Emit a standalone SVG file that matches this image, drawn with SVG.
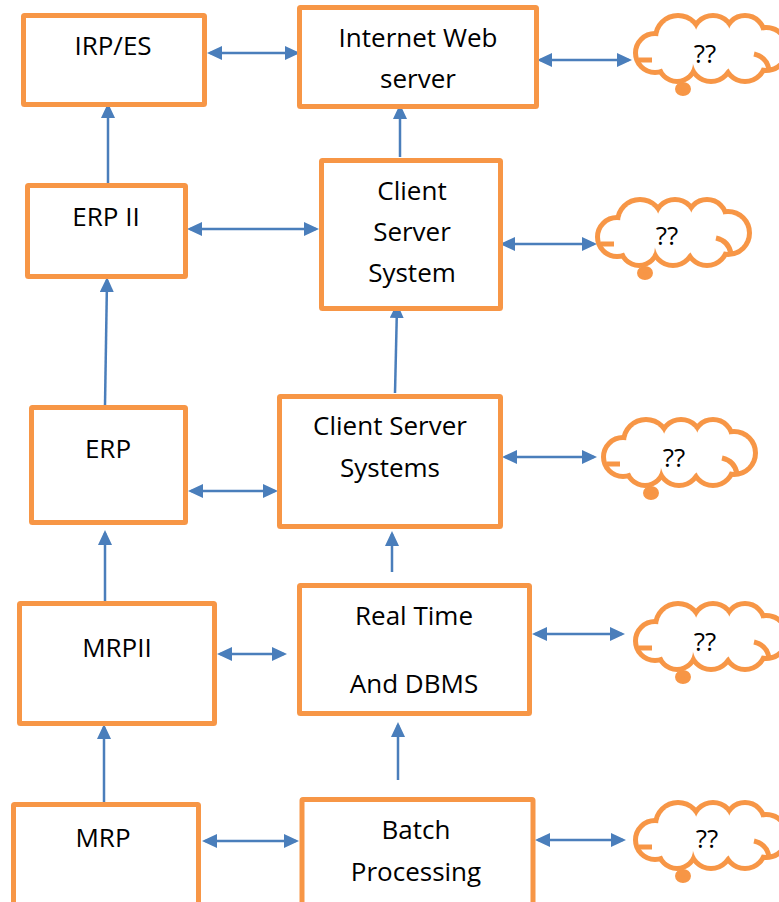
<svg xmlns="http://www.w3.org/2000/svg" xmlns:xlink="http://www.w3.org/1999/xlink" width="779" height="902" viewBox="0 0 779 902">
<style>
.box{fill:#fff;stroke:#F79646;stroke-width:5}
.lbl{font-family:"Open Sans","Liberation Sans",sans-serif;font-size:26px;fill:#000;text-anchor:middle}
.con{fill:none;stroke:#4A7EBB;stroke-width:2.5}
.bi{marker-start:url(#ah);marker-end:url(#ah)}
.one{marker-end:url(#ah)}
</style>
<defs>
<marker id="ah" viewBox="0 0 15 14" refX="12" refY="7" markerWidth="15" markerHeight="14" markerUnits="userSpaceOnUse" orient="auto-start-reverse">
<path d="M0,0 L15,7 L0,14 z" fill="#4A7EBB"/>
</marker>
<g id="cloud">
<ellipse cx="50" cy="76" rx="5" ry="4" fill="#F79646" stroke="#F79646" stroke-width="6"/>
<g fill="none" stroke="#F79646" stroke-width="10">
<circle cx="22" cy="40" r="17"/><circle cx="45" cy="25" r="20"/><circle cx="80" cy="23" r="18"/><circle cx="112" cy="22" r="17"/><circle cx="133" cy="36" r="19"/><circle cx="112" cy="48" r="18"/><circle cx="78" cy="48" r="18"/><circle cx="44" cy="50" r="16"/>
</g>
<g fill="#fff">
<circle cx="22" cy="40" r="17"/><circle cx="45" cy="25" r="20"/><circle cx="80" cy="23" r="18"/><circle cx="112" cy="22" r="17"/><circle cx="133" cy="36" r="19"/><circle cx="112" cy="48" r="18"/><circle cx="78" cy="48" r="18"/><circle cx="44" cy="50" r="16"/><circle cx="80" cy="36" r="25"/>
</g>
<path d="M121,41 Q134,44 136,57 M6,47 H19" fill="none" stroke="#F79646" stroke-width="5"/>
</g>
</defs>

<g id="connectors">
<path class="con bi" d="M210,53 H297"/>
<path class="con bi" d="M540,60 H629"/>
<path class="con one" d="M400,157 V107"/>
<path class="con one" d="M108,183 V106"/>
<path class="con bi" d="M190,229 H316"/>
<path class="con bi" d="M503,244 H594"/>
<path class="con one" d="M395,393 L397,306"/>
<path class="con one" d="M105,405 L107,280"/>
<path class="con bi" d="M191,491 H275"/>
<path class="con bi" d="M505,457 H594"/>
<path class="con one" d="M105,601 V533"/>
<path class="con one" d="M392,572 V534"/>
<path class="con bi" d="M220,654 H284"/>
<path class="con bi" d="M535,634 H622"/>
<path class="con one" d="M104,802 V727"/>
<path class="con one" d="M398,780 V725"/>
<path class="con bi" d="M205,841 H296"/>
<path class="con bi" d="M538,840 H623"/>
</g>

<g id="irp-es"><rect class="box" x="23.5" y="15.5" width="181" height="89" rx="1"/><text class="lbl" x="113" y="55">IRP/ES</text></g>
<g id="internet-web-server"><rect class="box" x="299.5" y="7.5" width="237" height="99" rx="1"/><text class="lbl" x="418" y="47">Internet Web</text><text class="lbl" x="418" y="88">server</text></g>
<g id="erp-ii"><rect class="box" x="27.5" y="185.5" width="158" height="91" rx="1"/><text class="lbl" x="106" y="226">ERP II</text></g>
<g id="client-server-system"><rect class="box" x="321.5" y="160.5" width="179" height="148" rx="1"/><text class="lbl" x="412" y="200">Client</text><text class="lbl" x="412" y="241">Server</text><text class="lbl" x="412" y="282">System</text></g>
<g id="erp"><rect class="box" x="31.5" y="407.5" width="154" height="115" rx="1"/><text class="lbl" x="108" y="458">ERP</text></g>
<g id="client-server-systems"><rect class="box" x="279.5" y="396.5" width="221" height="130" rx="1"/><text class="lbl" x="390" y="435">Client Server</text><text class="lbl" x="390" y="477">Systems</text></g>
<g id="mrpii"><rect class="box" x="19.5" y="603.5" width="195" height="120" rx="1"/><text class="lbl" x="117" y="657">MRPII</text></g>
<g id="real-time-dbms"><rect class="box" x="299.5" y="585.5" width="230" height="128" rx="1"/><text class="lbl" x="414" y="625">Real Time</text><text class="lbl" x="414" y="693">And DBMS</text></g>
<g id="mrp"><rect class="box" x="13.5" y="804.5" width="185" height="110" rx="1"/><text class="lbl" x="103" y="847">MRP</text></g>
<g id="batch-processing"><rect class="box" x="302" y="799.5" width="231" height="110" rx="1"/><text class="lbl" x="416" y="839">Batch</text><text class="lbl" x="416" y="881">Processing</text></g>

<g id="cloud1"><use xlink:href="#cloud" href="#cloud" transform="translate(633,13)"/><text class="lbl" x="705" y="63">??</text></g>
<g id="cloud2"><use xlink:href="#cloud" href="#cloud" transform="translate(595,197)"/><text class="lbl" x="667" y="245">??</text></g>
<g id="cloud3"><use xlink:href="#cloud" href="#cloud" transform="translate(601,417)"/><text class="lbl" x="674" y="467">??</text></g>
<g id="cloud4"><use xlink:href="#cloud" href="#cloud" transform="translate(633,601)"/><text class="lbl" x="705" y="651">??</text></g>
<g id="cloud5"><use xlink:href="#cloud" href="#cloud" transform="translate(633,800)"/><text class="lbl" x="707" y="848">??</text></g>
</svg>
